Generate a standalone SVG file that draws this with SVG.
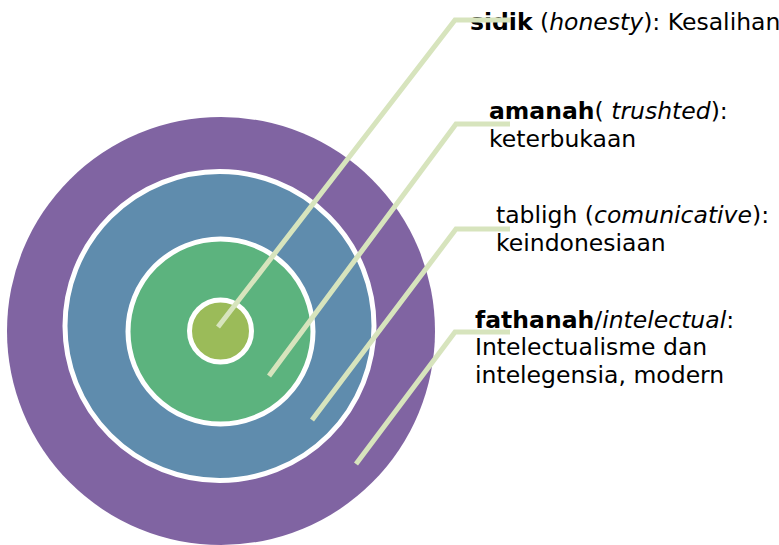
<svg xmlns="http://www.w3.org/2000/svg" width="779" height="545" viewBox="0 0 779 545">
<style>
.ring{stroke:#FFFFFF;stroke-width:5}
.lbl{font-family:"DejaVu Sans","Liberation Sans",sans-serif;font-size:23.5px;fill:#000000}
.b{font-weight:bold}
.i{font-style:italic}
.conn{fill:none;stroke:#D7E4BD;stroke-width:5;stroke-linejoin:miter}
</style>
<rect width="779" height="545" fill="#FFFFFF"/>
<g id="ring-fathanah"><circle cx="221" cy="331" r="214" fill="#8064A2"/></g>
<g id="ring-tabligh"><circle class="ring" cx="219.5" cy="326" r="154.5" fill="#5F8CAD"/></g>
<g id="ring-amanah"><circle class="ring" cx="220.5" cy="331.5" r="92.5" fill="#5CB37E"/></g>
<g id="ring-sidik"><circle class="ring" cx="220.5" cy="331" r="31" fill="#9BBB59"/></g>
<g id="label-sidik"><text class="lbl" x="470" y="30"><tspan class="b">sidik</tspan> (<tspan class="i">honesty</tspan>): Kesalihan</text></g>
<g id="label-amanah"><text class="lbl" x="489" y="119"><tspan class="b">amanah</tspan>( <tspan class="i">trushted</tspan>):</text><text class="lbl" x="489" y="147">keterbukaan</text></g>
<g id="label-tabligh"><text class="lbl" x="496" y="223">tabligh (<tspan class="i">comunicative</tspan>):</text><text class="lbl" x="496" y="251">keindonesiaan</text></g>
<g id="label-fathanah"><text class="lbl" x="475" y="328"><tspan class="b">fathanah</tspan>/<tspan class="i">intelectual</tspan>:</text><text class="lbl" x="475" y="355">Intelectualisme dan</text><text class="lbl" x="475" y="383">intelegensia, modern</text></g>
<g id="connectors">
<polyline class="conn" points="510,20 455,20 218,327"/>
<polyline class="conn" points="510,124 456,124 269,376"/>
<polyline class="conn" points="510,229 456,229 312,420"/>
<polyline class="conn" points="510,332 455,332 356,464"/>
</g>
</svg>
